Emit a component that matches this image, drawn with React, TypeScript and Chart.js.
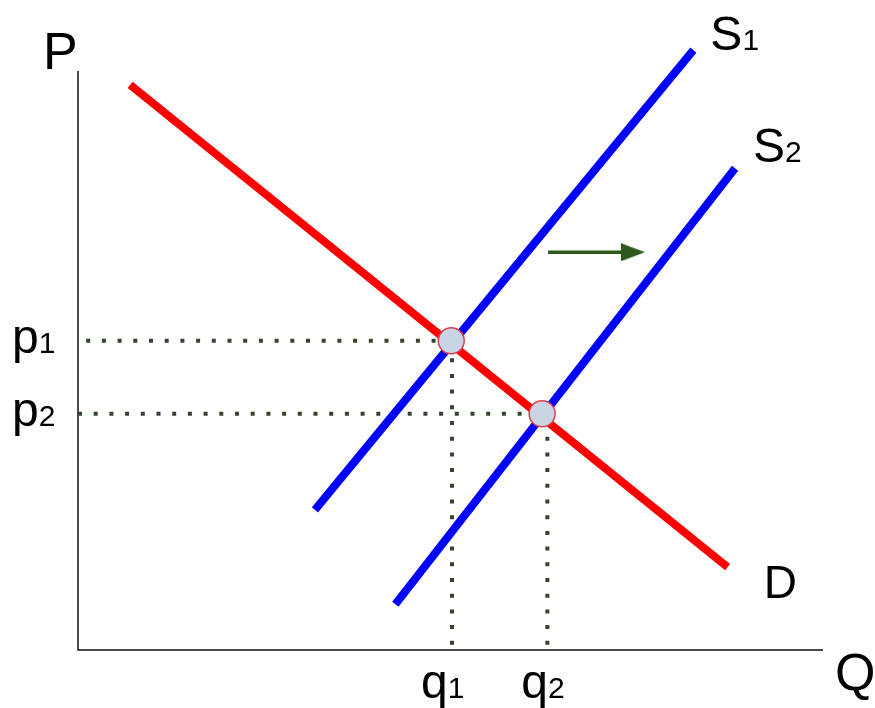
import React, { useEffect, useRef } from 'react';
import { Chart, registerables } from 'chart.js';

Chart.register(...registerables);

// ---- data (economic units: quantity Q on x, price P on y) ----
const axisMin = 0;
const axisMax = 10;
const demandQ = [0.7, 8.72];
const demandP = [9.76, 1.43];
const supply1Q = [3.18, 8.26];
const supply1P = [2.42, 10.36];
const supply2Q = [4.26, 8.82];
const supply2P = [0.79, 8.32];
const equilibriumQ = [5.01, 6.23];
const equilibriumP = [5.34, 4.08];
const guideQ = [5.02, 6.3]; // q1, q2 guide lines
const guideStartQ = [0.11, 0.0]; // where p1 / p2 dotted lines begin
const guideStartP = 0.09; // where q1 / q2 dotted lines begin
const arrowQ = [6.31, 7.45];
const arrowP = [6.87, 6.87];

// ---- text labels ----
const labelMain = ['P', 'Q', 'D', 'S', 'S', 'p', 'p', 'q', 'q'];
const labelSub = ['', '', '', '1', '2', '1', '2', '1', '2'];
const labelAnchorQ = [axisMin, axisMax, demandQ[1], supply1Q[1], supply2Q[1], axisMin, axisMin, guideQ[0], guideQ[1]];
const labelAnchorP = [axisMax, axisMin, demandP[1], supply1P[1], supply2P[1], equilibriumP[0], equilibriumP[1], axisMin, axisMin];

// layout / style (not data)
const labelDx = [-35, 12, 36, 17, 18, -66, -66, -31, -26];
const labelDy = [-2, 40, 31, 0, -6, 12, 12, 48, 48];
const labelSize = [52, 52, 46, 48, 48, 48, 48, 48, 48];
const subSize = 30;
const FONT = '"Liberation Sans", Arial, Helvetica, sans-serif';

const RED = '#ff0000';
const BLUE = '#0000ff';
const DOT = '#33452f';
const ARROW = '#2b5a1c';

const pts = (xs: number[], ys: number[]) => xs.map((x, i) => ({ x, y: ys[i] }));

function makeArrowHead(): HTMLCanvasElement {
  const c = document.createElement('canvas');
  c.width = 24;
  c.height = 18;
  const g = c.getContext('2d');
  if (g) {
    g.fillStyle = ARROW;
    g.beginPath();
    g.moveTo(0, 0);
    g.lineTo(24, 9);
    g.lineTo(0, 18);
    g.closePath();
    g.fill();
  }
  return c;
}

const labelPlugin = {
  id: 'econLabels',
  afterDatasetsDraw(chart: any) {
    const { ctx } = chart;
    const xs = chart.scales.x;
    const ys = chart.scales.y;
    ctx.save();
    ctx.fillStyle = '#000000';
    ctx.textAlign = 'left';
    ctx.textBaseline = 'alphabetic';
    labelMain.forEach((m, i) => {
      const px = xs.getPixelForValue(labelAnchorQ[i]) + labelDx[i];
      const py = ys.getPixelForValue(labelAnchorP[i]) + labelDy[i];
      ctx.font = `${labelSize[i]}px ${FONT}`;
      ctx.fillText(m, px, py);
      if (labelSub[i]) {
        const w = ctx.measureText(m).width;
        ctx.font = `${subSize}px ${FONT}`;
        ctx.fillText(labelSub[i], px + w, py);
      }
    });
    ctx.restore();
  },
};

export default function App() {
  const ref = useRef<HTMLCanvasElement | null>(null);

  useEffect(() => {
    if (!ref.current) return;
    const dotted = (data: { x: number; y: number }[]) => ({
      data,
      showLine: true,
      borderColor: DOT,
      borderWidth: 4,
      borderDash: [4, 11.7],
      borderCapStyle: 'butt',
      pointRadius: 0,
      clip: false,
    });
    const solid = (data: { x: number; y: number }[], color: string) => ({
      data,
      showLine: true,
      borderColor: color,
      borderWidth: 8,
      borderCapStyle: 'butt',
      pointRadius: 0,
      clip: false,
    });
    const head = makeArrowHead();

    const chart = new Chart(ref.current, {
      type: 'scatter',
      data: {
        datasets: [
          {
            data: pts(equilibriumQ, equilibriumP),
            showLine: false,
            pointRadius: 13,
            pointBackgroundColor: '#c9d4e4',
            pointBorderColor: '#d8404e',
            pointBorderWidth: 1.5,
            clip: false,
          },
          solid(pts(demandQ, demandP), RED),
          solid(pts(supply1Q, supply1P), BLUE),
          solid(pts(supply2Q, supply2P), BLUE),
          dotted([
            { x: guideStartQ[0], y: equilibriumP[0] },
            { x: equilibriumQ[0], y: equilibriumP[0] },
          ]),
          dotted([
            { x: guideStartQ[1], y: equilibriumP[1] },
            { x: equilibriumQ[1], y: equilibriumP[1] },
          ]),
          dotted([
            { x: guideQ[0], y: guideStartP },
            { x: guideQ[0], y: equilibriumP[0] },
          ]),
          dotted([
            { x: guideQ[1], y: guideStartP },
            { x: guideQ[1], y: equilibriumP[1] },
          ]),
          {
            data: pts(arrowQ, arrowP),
            showLine: true,
            borderColor: ARROW,
            borderWidth: 3.5,
            pointRadius: [0, 12],
            pointStyle: [false, head],
            pointBorderWidth: 0,
            clip: false,
          },
          {
            data: [
              { x: axisMin, y: axisMax },
              { x: axisMin, y: axisMin },
              { x: axisMax, y: axisMin },
            ],
            showLine: true,
            borderColor: '#111111',
            borderWidth: 1.5,
            pointRadius: 0,
            clip: false,
          },
        ] as any,
      },
      options: {
        animation: false,
        responsive: false,
        events: [],
        layout: { padding: { left: 78, right: 52, top: 71, bottom: 58 } },
        scales: {
          x: { type: 'linear', min: axisMin, max: axisMax, display: false },
          y: { type: 'linear', min: axisMin, max: axisMax, display: false },
        },
        plugins: {
          legend: { display: false },
          tooltip: { enabled: false },
        },
      },
      plugins: [labelPlugin],
    });
    return () => chart.destroy();
  }, []);

  return (
    <div style={{ position: 'fixed', left: 0, top: 0, width: 875, height: 708, background: '#ffffff' }}>
      <canvas ref={ref} width={875} height={708} style={{ display: 'block' }} />
    </div>
  );
}
